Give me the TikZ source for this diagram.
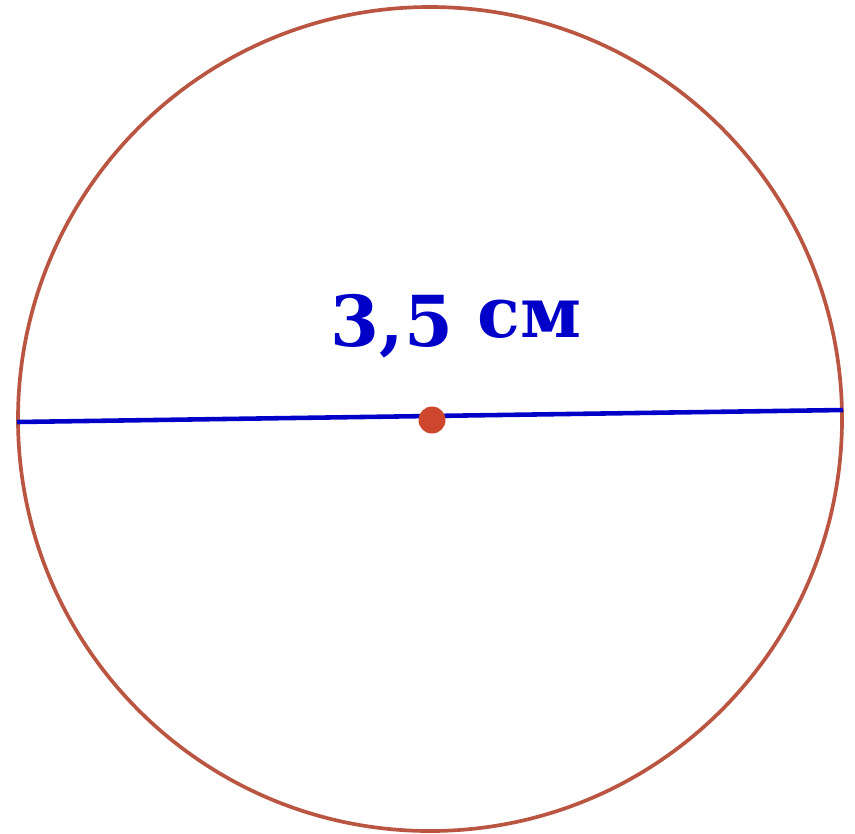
\documentclass[tikz,border=0pt]{standalone}
\usepackage{fontspec}
\setmainfont{DejaVu Serif}
\definecolor{rimred}{RGB}{185,85,65}
\definecolor{dotred}{RGB}{205,70,45}
\definecolor{lineblue}{RGB}{0,0,200}

\begin{document}
\begin{tikzpicture}[
    rim/.style={draw=rimred, line width=1.05pt},
    diam/.style={draw=lineblue, line width=1.3pt},
    dot/.style={circle, fill=dotred, inner sep=0pt, minimum size=0.27cm},
    lbl/.style={text=lineblue, font=\bfseries\fontsize{20}{24}\selectfont, inner sep=0pt}
  ]

  \useasboundingbox (0,0) rectangle (8.55,8.33);

  \draw[rim] (4.30,4.14) circle (4.12);
  \coordinate (left) at (0.17,4.11);
  \coordinate (right) at (8.43,4.23);
  \draw[diam] (left) -- (right);
  \node[dot] (centre) at (4.32,4.13) {};
  \node[lbl] (len) at (4.56,5.07) {3,5 \raisebox{0.12em}{см}};

\end{tikzpicture}
\end{document}
